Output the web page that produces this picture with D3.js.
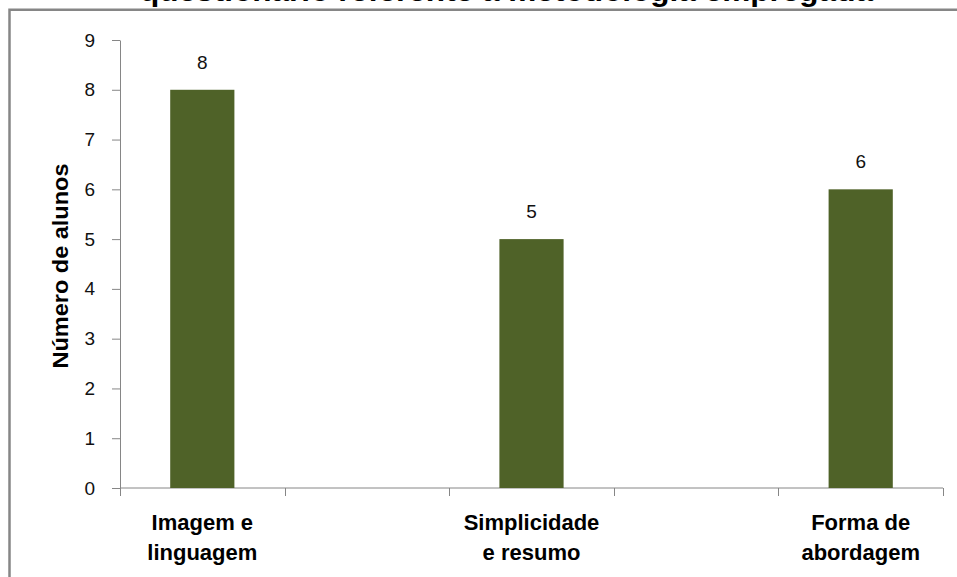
<!DOCTYPE html>
<html>
<head>
<meta charset="utf-8">
<script src="https://cdn.jsdelivr.net/npm/d3@7"></script>
<style>
  html, body { margin: 0; padding: 0; background: #ffffff; }
  svg { display: block; }
</style>
</head>
<body>
<svg id="chart" width="957" height="577"></svg>
<script>
// Answers to the questionnaire about the teaching methodology
const title = "questionário referente a metodologia empregada";
const yAxisTitle = "Número de alunos";
// Five slots on the category axis; the 2nd and 4th are empty spacers
const categoryLines = [
  ["Imagem e", "linguagem"],
  [],
  ["Simplicidade", "e resumo"],
  [],
  ["Forma de", "abordagem"]
];
const values = [8, null, 5, null, 6];
const yTicks = [0, 1, 2, 3, 4, 5, 6, 7, 8, 9];

const W = 957, H = 577;
const margin = { left: 120, right: 14, top: 40, bottom: 89 };
const svg = d3.select("#chart");

const barColor = "#4f6228";
const axisColor = "#868686";
const numFont = "'Liberation Sans', Arial, sans-serif";
const boldFont = "'Liberation Sans', Arial, sans-serif";

// Outer frame
svg.append("rect")
  .attr("x", 9.5).attr("y", 9.75)
  .attr("width", W + 20).attr("height", H + 20)
  .attr("fill", "none")
  .attr("stroke", axisColor)
  .attr("stroke-width", 2.5);

// Title sits above the frame, only its lower part is on the page
svg.append("text")
  .attr("x", 140).attr("y", 0.5)
  .attr("font-family", "'Liberation Sans', Arial, sans-serif")
  .attr("font-weight", "bold")
  .attr("font-size", 30)
  .attr("textLength", 733)
  .attr("lengthAdjust", "spacingAndGlyphs")
  .attr("fill", "#000")
  .text(title);

const idx = d3.range(categoryLines.length);
const x0 = margin.left, x1 = W - margin.right;
const xSlots = d3.scaleBand().domain(idx).range([x0, x1]).padding(0);
const xBars = d3.scaleBand().domain(idx).range([x0, x1])
  .paddingInner(0.61).paddingOuter(0.305);
const y = d3.scaleLinear().domain([0, 9]).range([H - margin.bottom, margin.top]);

// Y axis
const yAxis = svg.append("g")
  .attr("transform", `translate(${x0},0)`)
  .call(d3.axisLeft(y).tickValues(yTicks).tickSize(8).tickPadding(17).tickSizeOuter(0));
yAxis.select(".domain").attr("stroke", axisColor);
yAxis.selectAll(".tick line").attr("stroke", axisColor);
yAxis.selectAll(".tick text")
  .attr("font-family", numFont)
  .attr("font-size", 19)
  .attr("fill", "#111");

// X axis: baseline plus tick marks at every slot boundary
const xAxis = svg.append("g").attr("class", "x-axis");
xAxis.append("line")
  .attr("x1", x0).attr("x2", x1)
  .attr("y1", y(0)).attr("y2", y(0))
  .attr("stroke", axisColor);
const boundaries = idx.map(i => xSlots(i)).concat([x1]);
xAxis.selectAll("line.tick")
  .data(boundaries)
  .join("line")
  .attr("class", "tick")
  .attr("x1", d => Math.round(d) + 0.5).attr("x2", d => Math.round(d) + 0.5)
  .attr("y1", y(0)).attr("y2", y(0) + 8)
  .attr("stroke", axisColor);

// Category labels
const labelGroups = svg.append("g")
  .selectAll("text")
  .data(idx.filter(i => categoryLines[i].length))
  .join("text")
  .attr("text-anchor", "middle")
  .attr("font-family", boldFont)
  .attr("font-weight", "bold")
  .attr("font-size", 22)
  .attr("fill", "#000");
labelGroups.each(function(i) {
  const t = d3.select(this);
  categoryLines[i].forEach((line, k) => {
    t.append("tspan")
      .attr("x", xSlots(i) + xSlots.bandwidth() / 2)
      .attr("y", y(0) + 42 + k * 30)
      .text(line);
  });
});

// Bars
const barData = idx.filter(i => values[i] != null);
svg.append("g")
  .selectAll("rect")
  .data(barData)
  .join("rect")
  .attr("x", i => xBars(i))
  .attr("width", xBars.bandwidth())
  .attr("y", i => y(values[i]))
  .attr("height", i => y(0) - y(values[i]))
  .attr("fill", barColor);

// Value labels above the bars
svg.append("g")
  .selectAll("text")
  .data(barData)
  .join("text")
  .attr("x", i => xBars(i) + xBars.bandwidth() / 2)
  .attr("y", i => y(values[i]) - 21)
  .attr("text-anchor", "middle")
  .attr("font-family", numFont)
  .attr("font-size", 19)
  .attr("fill", "#111")
  .text(i => values[i]);

// Y axis title
svg.append("text")
  .attr("transform", `translate(68,${(y(0) + y(9)) / 2 + 2}) rotate(-90)`)
  .attr("text-anchor", "middle")
  .attr("font-family", boldFont)
  .attr("font-weight", "bold")
  .attr("font-size", 22)
  .attr("textLength", 205)
  .attr("lengthAdjust", "spacingAndGlyphs")
  .attr("fill", "#000")
  .text(yAxisTitle);
</script>
</body>
</html>
